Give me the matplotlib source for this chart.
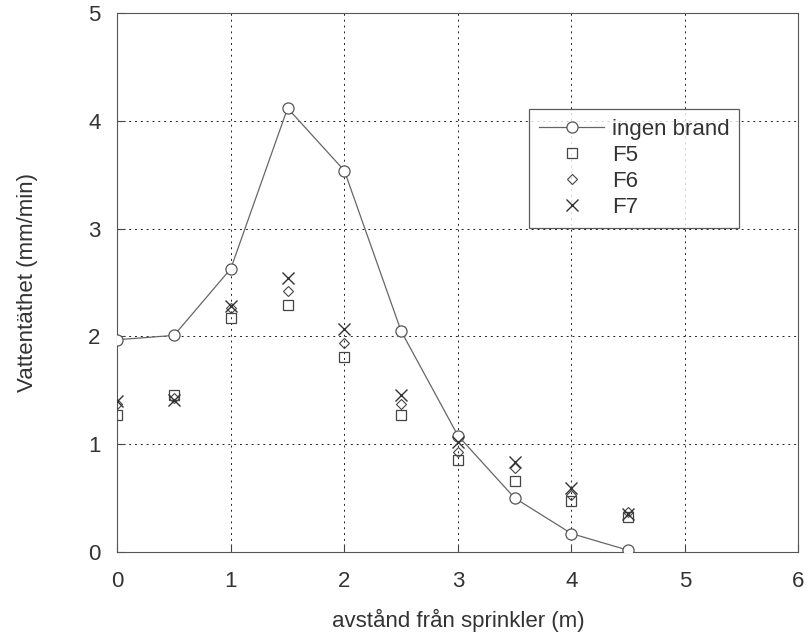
import matplotlib
matplotlib.use("Agg")
import matplotlib.pyplot as plt

# distance from sprinkler [m]
avstand = [0, 0.5, 1, 1.5, 2, 2.5, 3, 3.5, 4, 4.5]

# water density [mm/min]
ingen_brand = [1.97, 2.01, 2.63, 4.12, 3.54, 2.05, 1.08, 0.50, 0.17, 0.015]
f5 = [1.27, 1.46, 2.17, 2.29, 1.81, 1.27, 0.85, 0.66, 0.47, 0.32]
f6 = [1.37, 1.43, 2.26, 2.42, 1.94, 1.37, 0.93, 0.78, 0.53, 0.37]
f7 = [1.40, 1.41, 2.28, 2.54, 2.07, 1.46, 1.02, 0.83, 0.59, 0.35]

x_ticks = [0, 1, 2, 3, 4, 5, 6]
y_ticks = [0, 1, 2, 3, 4, 5]

plt.rcParams["font.family"] = ["Liberation Sans", "DejaVu Sans"]
ink = "#333333"

fig = plt.figure(figsize=(8.09, 6.38), dpi=100)
ax = fig.add_axes([0.145, 0.135, 0.842, 0.844])

ax.plot(avstand, ingen_brand, color="#666666", lw=0.9, marker="o", ms=8,
        mfc="white", mec="#555555", mew=0.9, label="ingen brand", zorder=3)
ax.plot(avstand, f5, ls="none", marker="s", ms=7.5, mfc="none", mec="#444444",
        mew=0.9, label="F5", zorder=3)
ax.plot(avstand, f6, ls="none", marker="D", ms=5.5, mfc="none", mec="#444444",
        mew=0.8, label="F6", zorder=3)
ax.plot(avstand, f7, ls="none", marker="x", ms=8.5, mec="#333333",
        mew=1.0, label="F7", zorder=3)

ax.set_xlim(0, 6)
ax.set_ylim(0, 5)
ax.set_xticks(x_ticks)
ax.set_yticks(y_ticks)
ax.grid(True, color="#222222", ls=(0, (2, 4)), lw=0.7)
ax.tick_params(direction="in", length=6, labelsize=16, labelcolor=ink,
               color="#444444", top=False, right=False)
ax.tick_params(axis="x", pad=14)
ax.tick_params(axis="y", pad=12)
for s in ax.spines.values():
    s.set_color("#555555")
    s.set_linewidth(0.8)

ax.set_xlabel("avstånd från sprinkler (m)", fontsize=16, color=ink, labelpad=12)
ax.set_ylabel("Vattentäthet (mm/min)", fontsize=16, color=ink, labelpad=36)

leg = ax.legend(loc="upper left", bbox_to_anchor=(0.605, 0.822), fontsize=16,
                frameon=True, fancybox=False, edgecolor="#333333",
                borderaxespad=0, handlelength=2.9, borderpad=0.45,
                labelspacing=0.22, handletextpad=0.35)
leg.get_frame().set_linewidth(0.9)
for t in leg.get_texts():
    t.set_color(ink)

fig.savefig("out.png", dpi=100)
